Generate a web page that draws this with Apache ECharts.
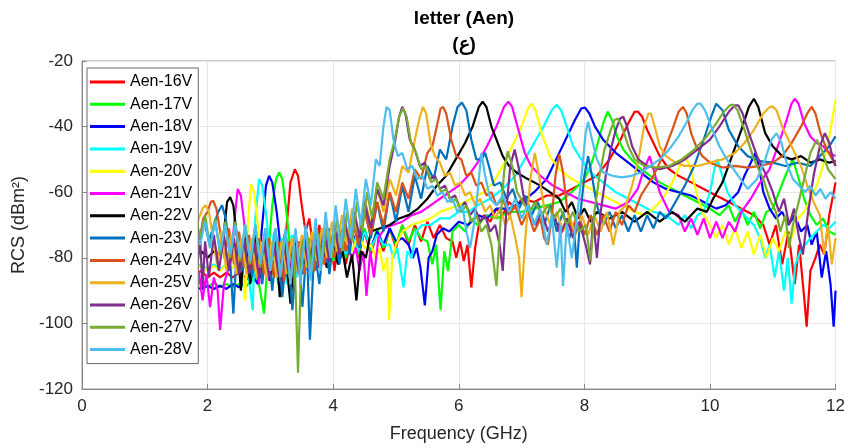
<!DOCTYPE html>
<html>
<head>
<meta charset="utf-8">
<script src="https://cdn.jsdelivr.net/npm/echarts@6/dist/echarts.min.js"></script>
<style>
html, body { margin: 0; padding: 0; background: #fff; }
#chart { width: 848px; height: 448px; }
</style>
</head>
<body>
<div id="chart"></div>
<script>
// legend labels, one per bias voltage
var seriesNames = ['Aen-16V', 'Aen-17V', 'Aen-18V', 'Aen-19V', 'Aen-20V', 'Aen-21V', 'Aen-22V',
    'Aen-23V', 'Aen-24V', 'Aen-25V', 'Aen-26V', 'Aen-27V', 'Aen-28V'];

// [frequency GHz, RCS dBm^2]
var aen16 = [[1.8,-85],[1.9,-84],[2.0,-86],[2.1,-84.5],[2.2,-86],[2.3,-84.5],[2.4,-86],[2.5,-84.5],[2.6,-86],[2.7,-84.5],[2.8,-86],[2.9,-84],[3.0,-85],[3.1,-82],[3.2,-88],[3.26,-70],[3.32,-57],[3.39,-53],[3.44,-55],[3.5,-64],[3.56,-72],[3.62,-68],[3.7,-80],[3.78,-70],[3.86,-82],[3.94,-71],[4.02,-84],[4.1,-72],[4.2,-82],[4.3,-73],[4.4,-80],[4.5,-72],[4.6,-79],[4.7,-72],[4.8,-78],[4.9,-71],[5.0,-77],[5.1,-70],[5.2,-76],[5.3,-70],[5.4,-75],[5.5,-69],[5.6,-74],[5.7,-70],[5.8,-74],[5.9,-75],[5.96,-80],[6.02,-75],[6.08,-81],[6.14,-76],[6.2,-89],[6.26,-77],[6.32,-70],[6.4,-67],[6.5,-69],[6.6,-65],[6.7,-67],[6.8,-63],[6.9,-65],[7.0,-62],[7.2,-63],[7.4,-61],[7.6,-61],[7.8,-59],[8.0,-57],[8.2,-55],[8.4,-50],[8.55,-45],[8.7,-39],[8.8,-35.5],[8.85,-35.4],[8.92,-37],[9.0,-41],[9.1,-45],[9.2,-49],[9.35,-53],[9.5,-55],[9.7,-57],[9.9,-59],[10.1,-61],[10.3,-63],[10.5,-65],[10.7,-67],[10.85,-70],[10.95,-76],[11.05,-70],[11.15,-82],[11.25,-72],[11.35,-88],[11.42,-76],[11.5,-92],[11.54,-101],[11.6,-84],[11.68,-80],[11.75,-76],[11.82,-79],[11.9,-67],[12.0,-57]];
var aen17 = [[1.8,-88],[1.9,-87.5],[2.0,-89],[2.1,-87.5],[2.2,-89],[2.3,-88],[2.4,-89],[2.5,-88],[2.6,-89],[2.7,-87],[2.8,-86],[2.9,-97],[2.96,-80],[3.03,-64],[3.09,-56],[3.14,-54],[3.19,-56],[3.25,-65],[3.32,-78],[3.4,-72],[3.48,-86],[3.56,-73],[3.64,-84],[3.72,-74],[3.8,-82],[3.9,-73],[4.0,-81],[4.1,-72],[4.2,-80],[4.3,-72],[4.4,-79],[4.5,-71],[4.6,-78],[4.7,-71],[4.8,-77],[4.9,-71],[5.0,-76],[5.1,-70],[5.2,-75],[5.3,-71],[5.4,-74],[5.5,-75],[5.58,-82],[5.64,-76],[5.71,-96],[5.77,-78],[5.83,-84],[5.9,-72],[6.0,-70],[6.1,-72],[6.2,-68],[6.3,-70],[6.45,-67],[6.6,-68],[6.8,-66],[7.0,-66],[7.2,-65],[7.4,-64],[7.6,-63],[7.8,-60],[8.0,-56],[8.1,-52],[8.2,-46],[8.3,-39],[8.37,-35.4],[8.44,-38],[8.52,-43],[8.62,-47],[8.75,-50],[8.9,-53],[9.05,-55],[9.2,-57],[9.4,-59],[9.6,-61],[9.8,-63],[10.0,-65],[10.15,-67],[10.3,-64],[10.4,-69],[10.5,-65],[10.6,-70],[10.7,-66],[10.8,-71],[10.9,-66],[11.0,-65],[11.1,-60],[11.2,-55],[11.32,-50],[11.4,-55],[11.5,-62],[11.6,-67],[11.7,-70],[11.8,-68],[11.9,-72],[12.0,-73]];
var aen18 = [[1.8,-89],[1.9,-89.5],[2.0,-88.5],[2.1,-89.5],[2.2,-88.5],[2.3,-89.5],[2.4,-88],[2.5,-89],[2.6,-87],[2.7,-85],[2.8,-88],[2.86,-72],[2.93,-58],[2.98,-55],[3.03,-57],[3.1,-66],[3.17,-78],[3.24,-72],[3.32,-88],[3.4,-73],[3.48,-86],[3.56,-74],[3.64,-84],[3.72,-74],[3.8,-82],[3.9,-74],[4.0,-80],[4.1,-73],[4.2,-79],[4.3,-72],[4.4,-78],[4.5,-72],[4.6,-77],[4.7,-72],[4.8,-76],[4.9,-71],[5.0,-75],[5.1,-74],[5.2,-76],[5.27,-80],[5.33,-77],[5.39,-83],[5.46,-94.5],[5.52,-80],[5.58,-78],[5.65,-73],[5.75,-71],[5.85,-72],[6.0,-69],[6.15,-70],[6.3,-67],[6.45,-68],[6.6,-65],[6.8,-65],[7.0,-63],[7.2,-60],[7.4,-56],[7.55,-50],[7.7,-44],[7.85,-38],[7.95,-34.5],[8.01,-34.2],[8.08,-36],[8.17,-40],[8.3,-44],[8.5,-48],[8.7,-51],[8.9,-54],[9.1,-57],[9.3,-59],[9.5,-60],[9.7,-61],[9.9,-63],[10.1,-65],[10.25,-64],[10.35,-62],[10.45,-60],[10.55,-55],[10.65,-51],[10.72,-48],[10.78,-52],[10.85,-60],[10.95,-65],[11.05,-68],[11.15,-66],[11.25,-70],[11.35,-67],[11.45,-72],[11.55,-70],[11.62,-76],[11.7,-72],[11.78,-86],[11.85,-78],[11.92,-88],[11.97,-101],[12.0,-90]];
var aen19 = [[1.8,-83],[1.9,-82],[2.0,-83.5],[2.1,-82],[2.2,-83.5],[2.3,-82],[2.4,-83],[2.5,-81],[2.6,-82],[2.67,-88],[2.72,-96],[2.76,-68],[2.82,-56],[2.87,-58],[2.94,-68],[3.0,-80],[3.06,-72],[3.12,-88],[3.18,-74],[3.26,-88],[3.34,-73],[3.42,-86],[3.5,-74],[3.6,-84],[3.7,-74],[3.8,-82],[3.9,-74],[4.0,-80],[4.1,-73],[4.2,-79],[4.3,-73],[4.4,-78],[4.5,-72],[4.6,-77],[4.7,-73],[4.8,-76],[4.9,-76],[4.96,-80],[5.02,-77],[5.07,-83],[5.12,-89],[5.18,-78],[5.25,-80],[5.32,-72],[5.42,-70],[5.55,-70],[5.7,-68],[5.85,-68],[6.0,-66],[6.15,-66],[6.3,-64],[6.5,-62],[6.7,-59],[6.9,-55],[7.05,-50],[7.2,-45],[7.35,-40],[7.48,-35],[7.56,-33.3],[7.63,-35],[7.72,-40],[7.82,-46],[7.95,-50],[8.1,-54],[8.3,-57],[8.5,-60],[8.7,-62],[8.9,-64],[9.1,-66],[9.3,-67],[9.5,-70],[9.6,-67],[9.7,-71],[9.8,-67],[9.9,-66],[10.0,-60],[10.07,-53],[10.12,-50],[10.18,-54],[10.28,-60],[10.4,-64],[10.55,-67],[10.7,-70],[10.8,-74],[10.88,-80],[10.95,-76],[11.03,-86],[11.1,-78],[11.18,-90],[11.24,-80],[11.3,-94],[11.36,-82],[11.44,-78],[11.52,-76],[11.6,-74],[11.7,-72],[11.8,-70],[11.9,-71],[12.0,-69]];
var aen20 = [[1.8,-84],[1.9,-82.5],[2.0,-84],[2.1,-82.5],[2.2,-84],[2.3,-82],[2.4,-83],[2.5,-80],[2.56,-84],[2.6,-93],[2.64,-70],[2.69,-57.5],[2.74,-60],[2.8,-70],[2.86,-80],[2.92,-72],[3.0,-88],[3.08,-73],[3.16,-86],[3.24,-74],[3.32,-85],[3.4,-74],[3.5,-83],[3.6,-74],[3.7,-82],[3.8,-74],[3.9,-80],[4.0,-73],[4.1,-79],[4.2,-73],[4.3,-78],[4.4,-73],[4.5,-77],[4.6,-76],[4.68,-80],[4.74,-77],[4.8,-84],[4.86,-80],[4.89,-99],[4.94,-80],[5.0,-76],[5.1,-72],[5.25,-70],[5.4,-69],[5.55,-68],[5.7,-66],[5.85,-65],[6.0,-64],[6.2,-62],[6.4,-60],[6.55,-57],[6.7,-52],[6.85,-46],[7.0,-40],[7.1,-34.5],[7.16,-33],[7.22,-35],[7.32,-42],[7.45,-49],[7.6,-53],[7.8,-56],[8.0,-58],[8.2,-60],[8.4,-62],[8.6,-64],[8.8,-66],[8.95,-67],[9.1,-65],[9.25,-62],[9.4,-57],[9.52,-52],[9.6,-49],[9.68,-52],[9.78,-60],[9.9,-67],[10.0,-70],[10.1,-74],[10.2,-70],[10.3,-76],[10.4,-71],[10.5,-77],[10.6,-72],[10.7,-79],[10.8,-73],[10.9,-80],[11.0,-74],[11.1,-78],[11.2,-72],[11.3,-74],[11.4,-68],[11.5,-66],[11.6,-62],[11.7,-58],[11.8,-52],[11.9,-43],[12.0,-32]];
var aen21 = [[1.8,-86],[1.86,-84],[1.92,-93],[1.98,-85],[2.04,-95],[2.1,-86],[2.16,-90],[2.2,-102],[2.26,-88],[2.32,-84],[2.38,-80],[2.43,-68],[2.48,-59],[2.53,-61],[2.6,-72],[2.66,-82],[2.74,-74],[2.82,-88],[2.9,-73],[2.98,-87],[3.06,-74],[3.14,-86],[3.22,-74],[3.3,-85],[3.4,-75],[3.5,-84],[3.6,-75],[3.7,-82],[3.8,-74],[3.9,-81],[4.0,-74],[4.1,-79],[4.2,-75],[4.3,-80],[4.36,-77],[4.42,-84],[4.48,-78],[4.53,-91.6],[4.59,-78],[4.65,-86],[4.72,-74],[4.82,-71],[4.95,-70],[5.1,-69],[5.25,-67],[5.4,-66],[5.55,-64],[5.7,-62],[5.85,-60],[6.0,-58],[6.15,-55],[6.3,-51],[6.45,-46],[6.6,-40],[6.72,-34],[6.79,-32.4],[6.85,-34],[6.95,-41],[7.05,-48],[7.15,-52],[7.3,-55],[7.5,-58],[7.7,-60],[7.9,-62],[8.1,-63],[8.3,-64],[8.5,-65],[8.7,-63],[8.85,-59],[8.95,-53],[9.04,-49],[9.1,-53],[9.2,-60],[9.35,-66],[9.5,-67],[9.6,-72],[9.7,-68],[9.8,-73],[9.9,-68],[10.0,-74],[10.1,-69],[10.2,-74],[10.3,-69],[10.4,-72],[10.5,-66],[10.65,-62],[10.8,-57],[10.95,-53],[11.1,-45],[11.22,-38],[11.3,-33],[11.35,-31.5],[11.41,-33],[11.5,-39],[11.6,-43],[11.7,-45],[11.8,-46],[11.9,-48],[12.0,-49]];
var aen22 = [[1.8,-79],[1.9,-78],[2.0,-80],[2.1,-78],[2.2,-79],[2.26,-72],[2.31,-63],[2.36,-61.5],[2.41,-64],[2.47,-74],[2.53,-90],[2.6,-74],[2.68,-88],[2.76,-73],[2.84,-86],[2.92,-74],[3.0,-87],[3.08,-75],[3.15,-92],[3.22,-75],[3.32,-94],[3.4,-74],[3.5,-85],[3.6,-75],[3.7,-84],[3.8,-75],[3.9,-83],[4.0,-76],[4.08,-82],[4.15,-78],[4.22,-86],[4.3,-79],[4.37,-93],[4.44,-78],[4.52,-80],[4.6,-72],[4.75,-71],[4.9,-70],[5.05,-68],[5.2,-67],[5.35,-65],[5.5,-62],[5.65,-58],[5.8,-55],[5.95,-50],[6.1,-45],[6.22,-40],[6.32,-34],[6.38,-32.4],[6.44,-34],[6.52,-40],[6.6,-44],[6.7,-49],[6.8,-52],[6.92,-54],[7.1,-56],[7.3,-58],[7.45,-60],[7.6,-62],[7.7,-66],[7.8,-63],[7.9,-68],[8.0,-65],[8.1,-69],[8.2,-66],[8.4,-68],[8.6,-66],[8.8,-69],[9.0,-66],[9.2,-69],[9.4,-66],[9.6,-69],[9.8,-65],[9.95,-66],[10.05,-62],[10.2,-57],[10.35,-49],[10.5,-41],[10.62,-34],[10.7,-31.5],[10.77,-34],[10.88,-42],[11.0,-46],[11.15,-49],[11.3,-50],[11.45,-49],[11.6,-51],[11.75,-50],[11.9,-51],[12.0,-50.5]];
var aen23 = [[1.8,-70],[1.88,-73],[1.95,-69],[2.02,-75],[2.1,-70],[2.17,-66],[2.23,-64],[2.29,-68],[2.35,-78],[2.41,-97],[2.47,-76],[2.55,-84],[2.63,-73],[2.71,-86],[2.79,-74],[2.87,-88],[2.95,-74],[3.03,-90],[3.11,-74],[3.19,-92],[3.27,-75],[3.35,-96],[3.43,-75],[3.51,-95],[3.58,-76],[3.63,-105],[3.7,-77],[3.78,-88],[3.86,-73],[3.94,-85],[4.02,-71],[4.1,-82],[4.18,-69],[4.26,-79],[4.34,-67],[4.42,-77],[4.5,-65],[4.6,-74],[4.7,-63],[4.8,-72],[4.9,-60],[5.0,-69],[5.1,-58],[5.2,-66],[5.3,-55],[5.4,-62],[5.5,-52],[5.6,-56],[5.7,-47],[5.8,-50],[5.9,-40],[5.98,-34],[6.05,-32.7],[6.12,-35],[6.2,-44],[6.28,-50],[6.36,-50],[6.42,-48],[6.48,-52],[6.56,-58],[6.66,-57],[6.76,-62],[6.86,-59],[6.96,-65],[7.06,-61],[7.16,-67],[7.26,-63],[7.36,-70],[7.46,-64],[7.56,-72],[7.66,-66],[7.76,-74],[7.83,-70],[7.88,-83],[7.94,-66],[8.0,-55],[8.06,-49],[8.12,-55],[8.2,-64],[8.3,-70],[8.4,-66],[8.5,-71],[8.6,-67],[8.7,-72],[8.8,-67],[8.9,-72],[9.0,-67],[9.1,-71],[9.2,-66],[9.3,-68],[9.45,-63],[9.6,-58],[9.75,-52],[9.9,-44],[10.02,-37],[10.1,-33],[10.13,-32.7],[10.2,-35],[10.3,-41],[10.45,-46],[10.6,-49],[10.8,-50.5],[11.0,-51],[11.2,-52],[11.4,-51],[11.6,-52],[11.8,-48],[11.9,-46],[12.0,-43]];
var aen24 = [[1.8,-70],[1.87,-75],[1.93,-68],[2.0,-66],[2.05,-63],[2.09,-62.6],[2.14,-65],[2.2,-72],[2.27,-80],[2.34,-71],[2.42,-82],[2.5,-72],[2.58,-83],[2.66,-73],[2.74,-84],[2.82,-74],[2.9,-85],[2.98,-74],[3.06,-86],[3.14,-75],[3.22,-87],[3.3,-75],[3.38,-86],[3.46,-75],[3.54,-85],[3.62,-74],[3.7,-84],[3.78,-73],[3.86,-82],[3.94,-72],[4.02,-80],[4.1,-70],[4.2,-78],[4.3,-68],[4.4,-76],[4.5,-66],[4.6,-73],[4.7,-63],[4.8,-70],[4.9,-60],[5.0,-66],[5.1,-57],[5.2,-62],[5.3,-53],[5.4,-56],[5.5,-48],[5.58,-46],[5.65,-40],[5.71,-34.5],[5.75,-34],[5.8,-36],[5.88,-44],[5.96,-49],[6.04,-50],[6.12,-55],[6.2,-54],[6.28,-58],[6.36,-57],[6.44,-61],[6.52,-60],[6.6,-64],[6.7,-62],[6.8,-67],[6.9,-64],[7.0,-70],[7.1,-66],[7.2,-72],[7.3,-68],[7.36,-74],[7.42,-76],[7.48,-68],[7.54,-55],[7.6,-48.4],[7.66,-54],[7.72,-64],[7.8,-72],[7.9,-66],[8.0,-73],[8.1,-67],[8.2,-73],[8.3,-67],[8.4,-72],[8.5,-66],[8.6,-70],[8.7,-64],[8.8,-66],[8.9,-61],[9.0,-58],[9.1,-55],[9.2,-51],[9.3,-46],[9.4,-41],[9.5,-35.5],[9.57,-34],[9.63,-36],[9.7,-42],[9.78,-46],[9.88,-49],[10.0,-51],[10.2,-52.5],[10.4,-52],[10.6,-52.5],[10.8,-52],[11.0,-51],[11.15,-49],[11.3,-45],[11.45,-40],[11.55,-36],[11.62,-34],[11.68,-36],[11.76,-42],[11.86,-47],[11.95,-50],[12.0,-52]];
var aen25 = [[1.8,-72],[1.86,-68],[1.92,-65],[1.97,-64],[2.02,-66],[2.08,-73],[2.15,-82],[2.22,-72],[2.3,-84],[2.38,-73],[2.46,-85],[2.54,-74],[2.62,-85],[2.7,-74],[2.78,-86],[2.86,-75],[2.94,-86],[3.02,-75],[3.1,-86],[3.18,-75],[3.26,-85],[3.34,-74],[3.42,-84],[3.5,-73],[3.58,-83],[3.66,-72],[3.74,-81],[3.82,-71],[3.9,-80],[3.98,-69],[4.06,-78],[4.14,-67],[4.22,-76],[4.3,-65],[4.4,-73],[4.5,-62],[4.6,-70],[4.7,-59],[4.8,-66],[4.9,-56],[5.0,-61],[5.1,-52],[5.2,-54],[5.3,-44],[5.38,-37],[5.43,-34],[5.48,-36],[5.55,-45],[5.62,-49],[5.7,-51],[5.78,-55],[5.86,-54],[5.94,-58],[6.02,-57],[6.1,-61],[6.18,-60],[6.26,-64],[6.34,-62],[6.42,-66],[6.5,-64],[6.58,-68],[6.66,-65],[6.74,-70],[6.82,-67],[6.9,-74],[6.96,-80],[7.0,-92],[7.06,-74],[7.14,-56],[7.21,-48],[7.28,-55],[7.36,-65],[7.46,-70],[7.56,-66],[7.66,-72],[7.76,-67],[7.86,-73],[7.96,-67],[8.06,-73],[8.16,-67],[8.26,-72],[8.36,-66],[8.46,-76],[8.56,-66],[8.66,-64],[8.76,-58],[8.86,-50],[8.95,-40],[9.02,-36],[9.06,-36],[9.12,-40],[9.2,-46],[9.3,-49],[9.45,-51],[9.6,-52],[9.8,-52],[10.0,-51],[10.2,-50],[10.4,-48],[10.55,-45],[10.7,-41],[10.85,-36],[10.95,-34],[11.0,-33.9],[11.06,-35],[11.15,-40],[11.3,-46],[11.45,-52],[11.55,-58],[11.65,-63],[11.75,-67],[11.82,-79],[11.88,-70],[11.94,-82],[12.0,-74]];
var aen26 = [[1.8,-72],[1.84,-82],[1.88,-74],[1.92,-89],[1.96,-75],[2.02,-86],[2.1,-73],[2.18,-84],[2.26,-73],[2.34,-84],[2.42,-74],[2.5,-85],[2.58,-74],[2.66,-85],[2.74,-75],[2.82,-86],[2.9,-75],[2.98,-86],[3.06,-76],[3.14,-86],[3.22,-76],[3.3,-86],[3.38,-76],[3.46,-85],[3.54,-75],[3.62,-84],[3.7,-74],[3.78,-83],[3.86,-72],[3.94,-81],[4.02,-70],[4.1,-79],[4.18,-68],[4.26,-76],[4.34,-66],[4.42,-74],[4.5,-63],[4.6,-71],[4.7,-59],[4.8,-64],[4.9,-52],[4.98,-45],[5.05,-37],[5.1,-34],[5.15,-36],[5.22,-44],[5.3,-47],[5.38,-52],[5.46,-51],[5.54,-56],[5.62,-55],[5.7,-59],[5.78,-58],[5.86,-62],[5.94,-61],[6.02,-65],[6.1,-63],[6.18,-67],[6.26,-65],[6.34,-69],[6.42,-67],[6.5,-72],[6.58,-70],[6.65,-76],[6.7,-84],[6.76,-65],[6.82,-52],[6.89,-47],[6.96,-53],[7.04,-62],[7.12,-66],[7.22,-70],[7.32,-66],[7.42,-72],[7.52,-67],[7.62,-73],[7.72,-68],[7.82,-74],[7.92,-69],[8.02,-76],[8.09,-82],[8.14,-68],[8.2,-80],[8.26,-66],[8.34,-55],[8.42,-47],[8.5,-41],[8.57,-37.5],[8.62,-37],[8.68,-40],[8.76,-46],[8.86,-50],[9.0,-52],[9.2,-53],[9.4,-52],[9.6,-50],[9.8,-47],[10.0,-44],[10.15,-40],[10.3,-35.5],[10.4,-33.5],[10.45,-33.5],[10.52,-36],[10.62,-42],[10.75,-49],[10.9,-55],[11.0,-60],[11.1,-66],[11.18,-62],[11.26,-70],[11.34,-65],[11.42,-74],[11.48,-79],[11.55,-68],[11.65,-55],[11.75,-46],[11.83,-42],[11.9,-45],[11.96,-50],[12.0,-52]];
var aen27 = [[1.8,-66],[1.88,-74],[1.96,-67],[2.04,-77],[2.12,-68],[2.2,-79],[2.28,-69],[2.36,-80],[2.44,-69],[2.52,-81],[2.6,-70],[2.68,-82],[2.76,-70],[2.84,-83],[2.92,-71],[3.0,-84],[3.08,-71],[3.16,-85],[3.24,-72],[3.32,-88],[3.38,-76],[3.44,-115],[3.5,-76],[3.58,-72],[3.66,-84],[3.74,-71],[3.82,-82],[3.9,-70],[3.98,-80],[4.06,-68],[4.14,-78],[4.22,-66],[4.3,-75],[4.38,-63],[4.46,-72],[4.54,-60],[4.62,-68],[4.7,-57],[4.8,-62],[4.9,-50],[4.98,-44],[5.05,-37],[5.11,-34.5],[5.17,-37],[5.24,-45],[5.32,-48],[5.4,-53],[5.48,-52],[5.56,-57],[5.64,-56],[5.72,-60],[5.8,-59],[5.88,-63],[5.96,-62],[6.04,-66],[6.12,-64],[6.2,-69],[6.28,-67],[6.36,-72],[6.44,-70],[6.52,-76],[6.6,-88.6],[6.66,-70],[6.72,-54],[6.78,-47.5],[6.85,-52],[6.93,-60],[7.02,-63],[7.12,-66],[7.22,-63],[7.32,-67],[7.42,-64],[7.52,-68],[7.62,-65],[7.72,-70],[7.82,-66],[7.92,-72],[8.02,-70],[8.1,-81],[8.16,-66],[8.24,-55],[8.32,-47],[8.42,-41],[8.48,-38],[8.53,-37.5],[8.6,-40],[8.7,-46],[8.8,-50],[8.95,-52],[9.15,-52.5],[9.35,-52],[9.55,-50],[9.75,-47],[9.95,-43],[10.1,-39],[10.22,-35.5],[10.32,-33.5],[10.37,-33.3],[10.44,-35],[10.55,-41],[10.7,-50],[10.85,-56],[10.95,-62],[11.05,-66],[11.12,-72],[11.2,-67],[11.26,-77],[11.32,-70],[11.4,-64],[11.5,-56],[11.6,-48],[11.7,-44],[11.78,-47],[11.88,-53],[12.0,-56]];
var aen28 = [[1.8,-70],[1.88,-76],[1.96,-69],[2.04,-77],[2.12,-69],[2.2,-78],[2.28,-70],[2.36,-79],[2.44,-70],[2.52,-80],[2.6,-70],[2.68,-81],[2.76,-70],[2.84,-82],[2.92,-71],[3.0,-84],[3.08,-71],[3.16,-86],[3.24,-71],[3.32,-88],[3.4,-71],[3.48,-88],[3.56,-70],[3.64,-87],[3.72,-68],[3.8,-84],[3.88,-66],[3.96,-80],[4.04,-64],[4.12,-77],[4.2,-62],[4.28,-74],[4.36,-59],[4.44,-70],[4.52,-56],[4.6,-64],[4.68,-50],[4.74,-52],[4.8,-40],[4.85,-34],[4.9,-35],[4.96,-44],[5.03,-49],[5.1,-48],[5.18,-53],[5.26,-52],[5.34,-56],[5.42,-55],[5.5,-59],[5.58,-58],[5.66,-61],[5.74,-60],[5.82,-63],[5.9,-62],[5.98,-66],[6.06,-64],[6.12,-72],[6.18,-77],[6.24,-70],[6.3,-60],[6.36,-48],[6.42,-55],[6.5,-62],[6.6,-64],[6.7,-61],[6.8,-66],[6.9,-62],[7.0,-68],[7.1,-64],[7.2,-70],[7.3,-65],[7.4,-76],[7.48,-67],[7.56,-83],[7.62,-70],[7.66,-88.6],[7.72,-70],[7.8,-80],[7.88,-68],[7.95,-56],[8.02,-42],[8.06,-38.5],[8.11,-43],[8.2,-50],[8.3,-54],[8.45,-55],[8.6,-55.5],[8.75,-55],[8.9,-54],[9.05,-52],[9.2,-50],[9.35,-47],[9.5,-43],[9.62,-39],[9.72,-35],[9.8,-33],[9.85,-33],[9.92,-35],[10.02,-40],[10.15,-46],[10.3,-51],[10.45,-55],[10.6,-59],[10.75,-56],[10.88,-50],[10.98,-44],[11.06,-42],[11.14,-45],[11.22,-51],[11.32,-56],[11.42,-58],[11.52,-60],[11.6,-58],[11.68,-61],[11.76,-59],[11.84,-62],[11.92,-60],[12.0,-62]];

var seriesData = [aen16, aen17, aen18, aen19, aen20, aen21, aen22, aen23, aen24, aen25, aen26, aen27, aen28];

// MATLAB-like line colours
var lineColors = ['#ff0000', '#00ff00', '#0000ff', '#00ffff', '#ffff00', '#ff00ff', '#000000',
    '#0072bd', '#d95319', '#edb120', '#7e2f8e', '#77ac30', '#4dbeee'];

var fontFamily = 'Liberation Sans, Arial, sans-serif';

var chart = echarts.init(document.getElementById('chart'));

chart.setOption({
    animation: false,
    color: lineColors,
    title: {
        text: 'letter (Aen)\n(ع)',
        left: 459,
        top: 1,
        textAlign: 'center',
        textStyle: {
            fontFamily: fontFamily,
            fontSize: 19,
            fontWeight: 'bold',
            lineHeight: 26,
            color: '#000'
        }
    },
    legend: {
        orient: 'vertical',
        left: 87,
        top: 68,
        padding: [5, 6, 5, 3],
        itemGap: 4.3,
        itemWidth: 35,
        itemHeight: 3,
        icon: 'rect',
        backgroundColor: '#fff',
        borderColor: '#666',
        borderWidth: 1,
        borderRadius: 0,
        textStyle: {
            fontFamily: fontFamily,
            fontSize: 16,
            color: '#000',
            lineHeight: 18
        },
        data: seriesNames
    },
    grid: {
        left: 82,
        right: 12,
        top: 61,
        bottom: 56,
        show: true,
        borderColor: '#999',
        borderWidth: 1
    },
    xAxis: {
        type: 'value',
        min: 0,
        max: 12,
        interval: 2,
        name: 'Frequency (GHz)',
        nameLocation: 'middle',
        nameGap: 36,
        nameTextStyle: { fontFamily: fontFamily, fontSize: 18, color: '#262626' },
        axisLine: { lineStyle: { color: '#888' } },
        axisTick: { inside: true, length: 5, lineStyle: { color: '#888' } },
        axisLabel: { fontFamily: fontFamily, fontSize: 17, color: '#262626', margin: 9 },
        splitLine: { show: true, lineStyle: { color: '#e6e6e6' } }
    },
    yAxis: {
        type: 'value',
        min: -120,
        max: -20,
        interval: 20,
        name: 'RCS (dBm²)',
        nameLocation: 'middle',
        nameGap: 49,
        nameTextStyle: { fontFamily: fontFamily, fontSize: 18, color: '#262626' },
        axisLine: { show: true, lineStyle: { color: '#888' } },
        axisTick: { show: true, inside: true, length: 5, lineStyle: { color: '#888' } },
        axisLabel: { fontFamily: fontFamily, fontSize: 17, color: '#262626', margin: 9 },
        splitLine: { show: true, lineStyle: { color: '#e6e6e6' } }
    },
    series: seriesData.map(function (data, i) {
        return {
            name: seriesNames[i],
            type: 'line',
            data: data,
            showSymbol: false,
            smooth: false,
            lineStyle: { width: 2.2, color: lineColors[i] },
            itemStyle: { color: lineColors[i] }
        };
    })
});
</script>
</body>
</html>
